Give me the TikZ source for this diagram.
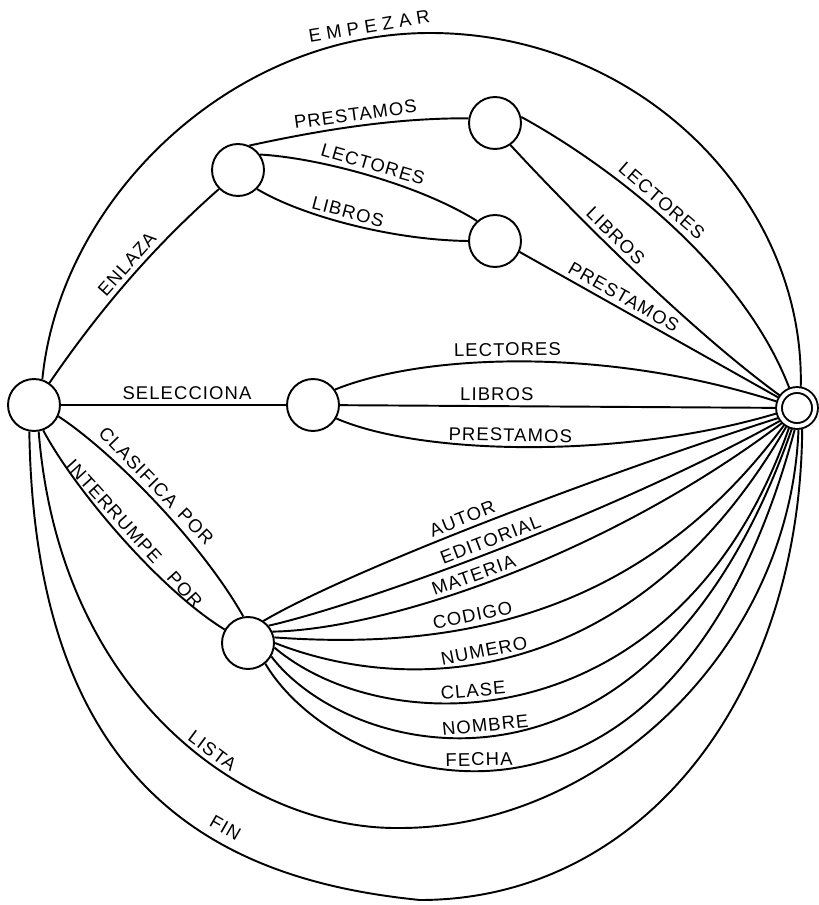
\documentclass[tikz,border=0pt]{standalone}
\usepackage{fontspec}
\newfontfamily\handfont[LetterSpace=6]{Liberation Sans}
\newfontfamily\handwide[LetterSpace=30]{Liberation Sans}

\begin{document}
\begin{tikzpicture}[
    x=0.02cm, y=-0.02cm,
    estado/.style={
        circle, draw, line width=1.1pt, minimum size=1.04cm, inner sep=0pt
    },
    final/.style={
        circle, draw, line width=1.1pt, double, double distance=2.2pt,
        minimum size=0.72cm, inner sep=0pt, outer sep=2pt
    },
    arco/.style={line width=1.1pt},
    lbl/.style={
        font=\handfont\fontsize{10.5}{12}\selectfont,
        sloped, above, inner sep=2.5pt
    },
]
\useasboundingbox (0,0) rectangle (818,905);

% ====== STATES ======
\node[estado] (ini) at (34,405) {};
\node[estado] (enl) at (238,170) {};
\node[estado] (pre) at (495,123) {};
\node[estado] (lec) at (495,241) {};
\node[estado] (sel) at (313,405) {};
\node[estado] (cla) at (248,643) {};
\node[final]  (fin) at (797,408) {};

% ====== EMPEZAR / ENLAZA ======
\draw[arco] (ini.72) .. controls (60,200) and (230,33) .. (430,33)
        node[lbl, pos=0.9, font=\handwide\fontsize{10.5}{12}\selectfont]
            (tEmp) {EMPEZAR}
    .. controls (640,33) and (805,200) .. (fin.80);

\draw[arco] (ini.55) .. controls (98,312) and (152,248) .. (enl.225)
    node[lbl, pos=0.55] (tEnl) {ENLAZA};

% Enlaza branches
\draw[arco] (enl.65) .. controls (330,128) and (400,118) .. (pre.170)
    node[lbl, pos=0.47] (tPre1) {PRESTAMOS};
\draw[arco] (enl.35) .. controls (320,158) and (420,185) .. (lec.132)
    node[lbl, pos=0.5] (tLec1) {LECTORES};
\draw[arco] (enl.-45) .. controls (300,215) and (390,240) .. (lec.180)
    node[lbl, pos=0.48] (tLib1) {LIBROS};

\draw[arco] (pre.13) .. controls (600,160) and (740,260) .. (fin)
    node[lbl, pos=0.46] (tLec2) {LECTORES};
\draw[arco] (pre.-55) .. controls (575,215) and (690,330) .. (fin)
    node[lbl, pos=0.4] (tLib2) {LIBROS};
\draw[arco] (lec.-24) -- node[lbl, pos=0.38] (tPre2) {PRESTAMOS} (fin);

% ====== SELECCIONA ======
\draw[arco] (ini) -- node[lbl, pos=0.56] (tSel) {SELECCIONA} (sel);

\draw[arco] (sel.35) .. controls (420,355) and (600,345) .. (fin)
    node[lbl, pos=0.47] (tLec3) {LECTORES};
\draw[arco] (sel) -- node[lbl, pos=0.36] (tLib3) {LIBROS} (fin);
\draw[arco] (sel.-30) .. controls (420,455) and (620,460) .. (fin.195)
    node[lbl, pos=0.46] (tPre3) {PRESTAMOS};

% ====== CLASIFICA / INTERRUMPE ======
\draw[arco] (ini.-25) .. controls (110,450) and (200,540) .. (cla.100)
    node[lbl, pos=0.47] (tCla) {CLASIFICA\hspace{0.5em}POR};
\draw[arco] (ini.-70) .. controls (75,490) and (160,590) .. (cla.150)
    node[lbl, pos=0.52] (tInt) {INTERRUMPE\hspace{1em}POR};

% Keys to the final state
\draw[arco] (cla.55) .. controls (350,570) and (600,475) .. (fin.-152)
    node[lbl, pos=0.465] (tAut) {AUTOR};
\draw[arco] (cla.40) .. controls (360,605) and (610,515) .. (fin.-143)
    node[lbl, pos=0.5] (tEdi) {EDITORIAL};
\draw[arco] (cla.25) .. controls (380,630) and (600,560) .. (fin.-135)
    node[lbl, pos=0.46] (tMat) {MATERIA};
\draw[arco] (cla.12) .. controls (450,650) and (640,620) .. (fin.-127)
    node[lbl, pos=0.375] (tCod) {CODIGO};
\draw[arco] (cla.0) .. controls (420,700) and (640,680) .. (fin.-120)
    node[lbl, pos=0.42] (tNum) {NUMERO};
\draw[arco] (cla.-10) .. controls (390,745) and (680,740) .. (fin.-112)
    node[lbl, pos=0.4] (tCls) {CLASE};
\draw[arco] (cla.-30) .. controls (350,760) and (650,835) .. (fin.-104)
    node[lbl, pos=0.465] (tNom) {NOMBRE};
\draw[arco] (cla.-50) .. controls (340,790) and (670,895) .. (fin.-96)
    node[lbl, pos=0.45] (tFec) {FECHA};

% ====== LISTA / FIN ======
\draw[arco] (ini.-80) .. controls (60,700) and (250,830) .. (400,828)
        node[lbl, pos=0.58] (tLis) {LISTA}
    .. controls (600,828) and (790,650) .. (fin.-86);
\draw[arco] (ini.-100) .. controls (35,790) and (220,880) .. (420,900)
        node[lbl, pos=0.64, inner sep=5pt] (tFin) {FIN}
    .. controls (640,900) and (800,700) .. (fin.-76);

\end{tikzpicture}
\end{document}
